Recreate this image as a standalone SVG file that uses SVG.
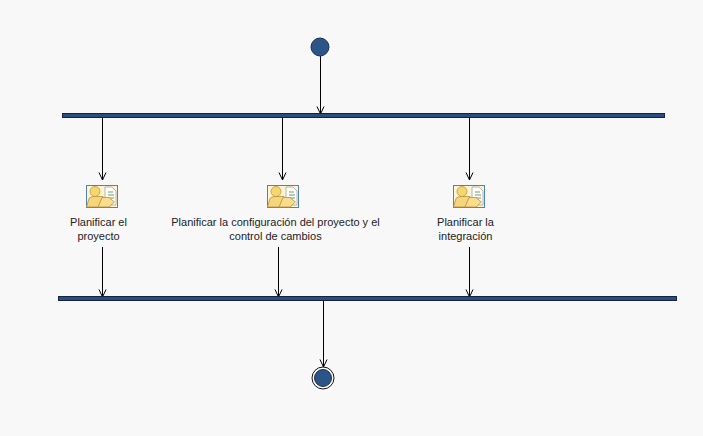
<svg xmlns="http://www.w3.org/2000/svg" width="703" height="436" viewBox="0 0 703 436">
<style>
.bar{fill:#2b4c7c;stroke:#14233f;stroke-width:1}
.dot{fill:#2b5488;stroke:#1c3152;stroke-width:1}
.lbl{font-family:"Liberation Sans",Arial,sans-serif;font-size:11px;fill:#222;text-anchor:middle}
.edge{fill:none;stroke:#000;stroke-width:1;marker-end:url(#arr)}
</style>
<defs>
<marker id="arr" markerUnits="userSpaceOnUse" markerWidth="10" markerHeight="10" refX="8" refY="5" orient="auto"><path d="M0.5 1.5L8 5L0.5 8.5" fill="none" stroke="#000" stroke-width="1"/></marker>
<g id="ico">
<rect x="0.5" y="0.5" width="31" height="22" fill="#fdf3d6" stroke="#4f83b5" stroke-width="1"/>
<path d="M19 2H26L30 6V20H19Z" fill="#fff" stroke="#a5a58c" stroke-width="0.8"/>
<path d="M22 7H27M22 10H28M22 13H28" stroke="#6f9a6a" stroke-width="1"/>
<circle cx="9" cy="6.500" r="5" fill="#f4d76e" stroke="#b89a3a" stroke-width="0.8"/>
<path d="M0.500 22L3 13.500Q4 11.500 9 11.500H17L13 22Z" fill="#f6d67c" stroke="#b5903a" stroke-width="0.8"/>
<path d="M12 22L16 12.500H23L28.500 17L23 22Z" fill="#fbdc8c" stroke="#b5903a" stroke-width="0.8"/>
</g>
</defs>
<rect width="703" height="436" fill="#f8f8f8"/>
<g id="connectors">
<path class="edge" d="M320.500 56V114"/>
<path class="edge" d="M102.500 118V180"/>
<path class="edge" d="M282.500 118V180"/>
<path class="edge" d="M469.500 118V180"/>
<path class="edge" d="M102.500 247V297"/>
<path class="edge" d="M278.500 247V297"/>
<path class="edge" d="M469.500 247V297"/>
<path class="edge" d="M323.500 301V367"/>
</g>
<g id="start"><circle class="dot" cx="320" cy="47" r="9"/></g>
<g id="fork"><rect class="bar" x="62.500" y="113.500" width="602" height="4"/></g>
<g id="join"><rect class="bar" x="58.500" y="296.500" width="618" height="4"/></g>
<g id="a1"><use href="#ico" x="86" y="185"/><text class="lbl" x="98.500" y="226">Planificar el</text><text class="lbl" x="98.500" y="240">proyecto</text></g>
<g id="a2"><use href="#ico" x="267" y="185"/><text class="lbl" x="275.500" y="226">Planificar la configuración del proyecto y el</text><text class="lbl" x="275.500" y="240">control de cambios</text></g>
<g id="a3"><use href="#ico" x="453" y="185"/><text class="lbl" x="465.500" y="226">Planificar la</text><text class="lbl" x="465.500" y="240">integración</text></g>
<g id="end"><circle cx="323" cy="378" r="11" fill="#fff" stroke="#111" stroke-width="1"/><circle class="dot" cx="323" cy="378" r="8.500"/></g>
</svg>
